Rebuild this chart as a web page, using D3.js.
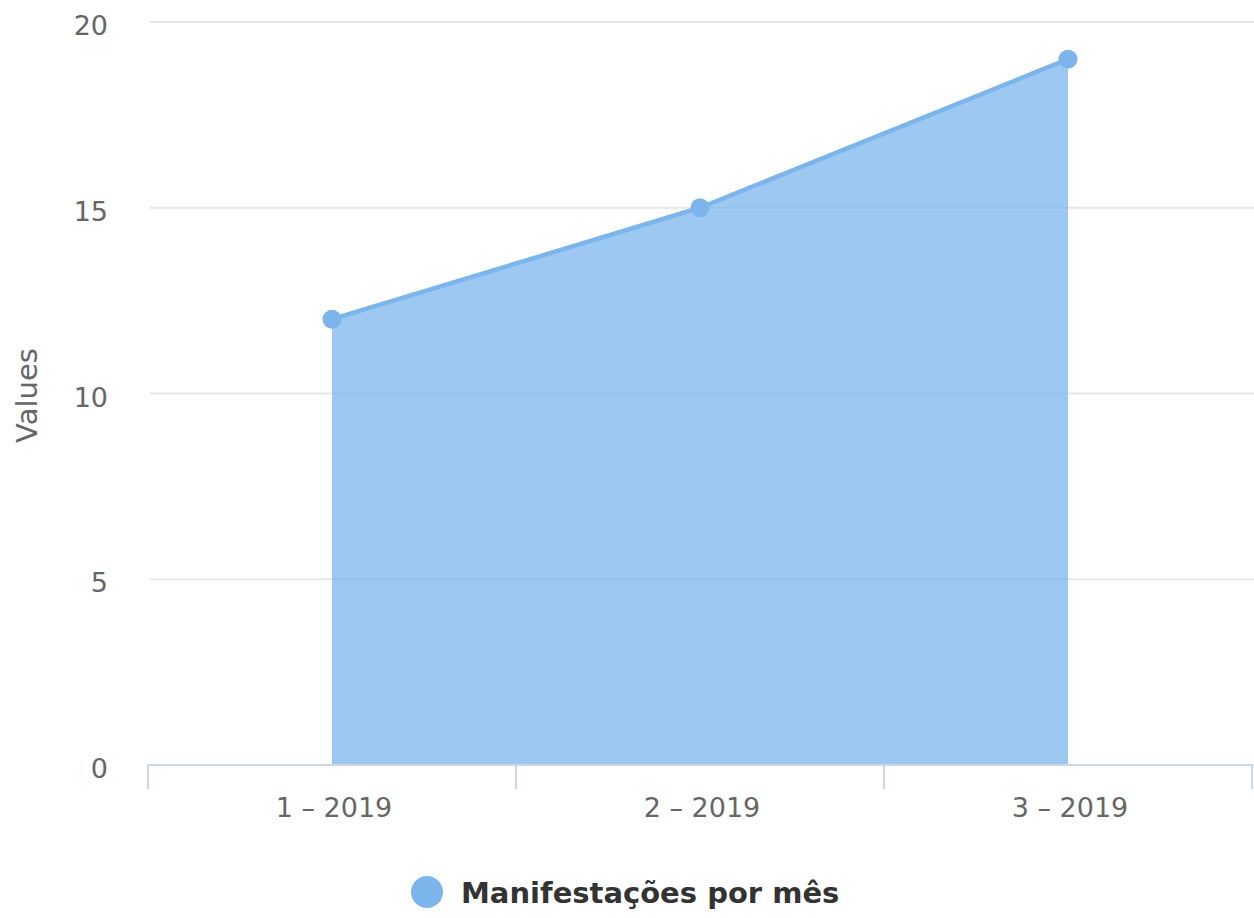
<!DOCTYPE html>
<html>
<head>
<meta charset="utf-8">
<title>Manifestações por mês</title>
<script src="https://d3js.org/d3.v7.min.js"></script>
<style>
  body { margin: 0; background: #fff; }
  text { font-family: "DejaVu Sans", "Open Sans", sans-serif; }
</style>
</head>
<body>
<div id="container"></div>
<script>
// data
var categories = ["1 – 2019", "2 – 2019", "3 – 2019"];
var values = [12, 15, 19];
var yTicks = [0, 5, 10, 15, 20];
var seriesName = "Manifestações por mês";
var yTitle = "Values";

const width = 1254,
      height = 918,
      margin = { top: 22, bottom: 153, left: 148, right: 2 };

var svg = d3.select("#container").append("svg")
    .attr("width", width)
    .attr("height", height);

var x = d3.scaleBand()
    .domain(categories)
    .range([margin.left, width - margin.right]);

var y = d3.scaleLinear()
    .domain([0, 20])
    .range([height - margin.bottom, margin.top]);

var cx = function(d) { return x(d) + x.bandwidth() / 2; };

// gridlines
svg.append("g").selectAll("line")
    .data(yTicks)
    .enter().append("line")
    .attr("x1", margin.left + 2)
    .attr("x2", width)
    .attr("y1", d => y(d))
    .attr("y2", d => y(d))
    .attr("stroke", "#e6e6e6")
    .attr("stroke-width", 2);

// y labels
svg.append("g").selectAll("text")
    .data(yTicks)
    .enter().append("text")
    .attr("x", 108)
    .attr("y", d => y(d) + 13)
    .attr("text-anchor", "end")
    .attr("fill", "#666666")
    .style("font-size", "27px")
    .text(d => d);

svg.append("text")
    .attr("transform", `translate(${37}, ${(margin.top + height - margin.bottom) / 2 + 2}) rotate(-90)`)
    .attr("text-anchor", "middle")
    .attr("fill", "#666666")
    .style("font-size", "29px")
    .text(yTitle);

// area + line
var pts = categories.map((c, i) => ({ c: c, v: values[i] }));

var area = d3.area()
    .x(d => cx(d.c))
    .y0(y(0))
    .y1(d => y(d.v));

var line = d3.line()
    .x(d => cx(d.c))
    .y(d => y(d.v));

svg.append("path")
    .datum(pts)
    .attr("d", area)
    .attr("fill", "#7cb5ec")
    .attr("fill-opacity", 0.75);

svg.append("path")
    .datum(pts)
    .attr("d", line)
    .attr("fill", "none")
    .attr("stroke", "#7cb5ec")
    .attr("stroke-width", 4.5)
    .attr("stroke-linejoin", "round");

svg.append("g").selectAll("circle")
    .data(pts)
    .enter().append("circle")
    .attr("cx", d => cx(d.c))
    .attr("cy", d => y(d.v))
    .attr("r", 9.5)
    .attr("fill", "#7cb5ec");

// x axis
var axisY = y(0);
svg.append("line")
    .attr("x1", margin.left)
    .attr("x2", width - margin.right)
    .attr("y1", axisY)
    .attr("y2", axisY)
    .attr("stroke", "#ccd6eb")
    .attr("stroke-width", 2);

var edges = categories.map(c => x(c)).concat([x(categories[categories.length - 1]) + x.bandwidth()]);
svg.append("g").selectAll("line")
    .data(edges)
    .enter().append("line")
    .attr("x1", d => Math.min(d, width - 2))
    .attr("x2", d => Math.min(d, width - 2))
    .attr("y1", axisY)
    .attr("y2", axisY + 24)
    .attr("stroke", "#ccd6eb")
    .attr("stroke-width", 2);

svg.append("g").selectAll("text")
    .data(categories)
    .enter().append("text")
    .attr("x", d => cx(d) + 2)
    .attr("y", axisY + 52)
    .attr("text-anchor", "middle")
    .attr("fill", "#666666")
    .style("font-size", "27px")
    .text(d => d);

// legend
svg.append("circle")
    .attr("cx", 427)
    .attr("cy", 892)
    .attr("r", 16)
    .attr("fill", "#7cb5ec");

svg.append("text")
    .attr("x", 461)
    .attr("y", 903)
    .attr("fill", "#333333")
    .style("font-size", "29px")
    .style("font-weight", "bold")
    .text(seriesName);
</script>
</body>
</html>
